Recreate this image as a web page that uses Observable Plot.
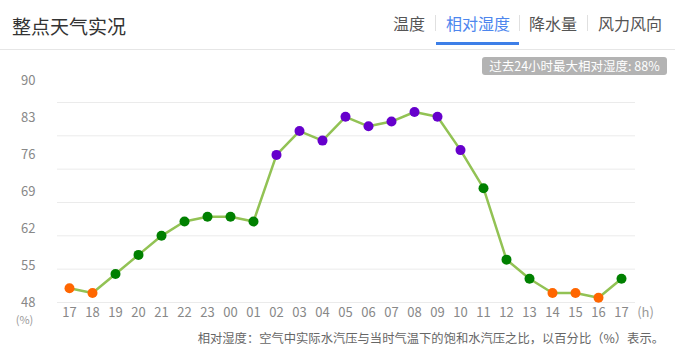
<!DOCTYPE html>
<html>
<head>
<meta charset="utf-8">
<script src="https://cdn.jsdelivr.net/npm/d3@7"></script>
<script src="https://cdn.jsdelivr.net/npm/@observablehq/plot@0.6"></script>
<style>
  html, body { margin: 0; padding: 0; background: #fff; }
  body { font-family: "Noto Sans CJK SC", "Noto Sans", sans-serif; }
  #wrap { position: relative; width: 675px; height: 358px; overflow: hidden; }
  .abs { position: absolute; white-space: nowrap; }
  #title { left: 12px; top: 15px; font-size: 19px; line-height: 22px; color: #333; }
  .tab { top: 13px; font-size: 16px; line-height: 20px; color: #555; }
  .tab.active { color: #4d86ee; }
  .sep { top: 15px; width: 1px; height: 16px; background: #e0e0e0; }
  #uline { left: 436px; top: 42px; width: 83px; height: 3px; background: #3d7fe8; }
  #hline { left: 0; top: 49px; width: 675px; height: 1px; background: #e6e6e6; }
  #badge { left: 482px; top: 57px; width: 185px; height: 18px; line-height: 18px; border-radius: 3px;
           background: #b3b3b3; color: #fff; font-size: 12.5px; text-align: center; }
  #chart { left: 0; top: 50px; }
  #caption { right: 11px; top: 329px; font-size: 12.3px; line-height: 18px; color: #666; }
</style>
</head>
<body>
<div id="wrap">
  <div id="title" class="abs">整点天气实况</div>
  <div class="abs tab" style="left:393px">温度</div>
  <div class="abs sep" style="left:435px"></div>
  <div class="abs tab active" style="left:446px">相对湿度</div>
  <div class="abs sep" style="left:519px"></div>
  <div class="abs tab" style="left:529px">降水量</div>
  <div class="abs sep" style="left:587px"></div>
  <div class="abs tab" style="left:598px">风力风向</div>
  <div id="uline" class="abs"></div>
  <div id="hline" class="abs"></div>
  <div id="chart" class="abs"></div>
  <div id="badge" class="abs">过去24小时最大相对湿度: 88%</div>
  <div id="caption" class="abs">相对湿度：空气中实际水汽压与当时气温下的饱和水汽压之比，以百分比（%）表示。</div>
</div>
<script>
const hours = ["17","18","19","20","21","22","23","00","01","02","03","04","05","06","07","08","09","10","11","12","13","14","15","16","17"];
const humidity = [51,50,54,58,62,65,66,66,65,79,84,82,87,85,86,88,87,80,72,57,53,50,50,49,53];
const yTicks = [48,55,62,69,76,83,90];
const colorThresholds = [52, 76];
const colorRange = ["#ff6600", "#008000", "#6600cc"];

const data = humidity.map((v, i) => ({i, v, h: hours[i]}));
// tick labels in the original are spread slightly wider than the grid lines
const labelSpread = 1.108;

const chart = Plot.plot({
  width: 675,
  height: 278,
  marginTop: 52,
  marginBottom: 26,
  marginLeft: 57,
  marginRight: 42,
  style: {fontFamily: "'Noto Sans CJK SC', 'Noto Sans', sans-serif", background: "transparent"},
  x: {type: "point", domain: d3.range(hours.length), padding: 0.52, axis: null},
  y: {domain: [48, 90], axis: null},
  color: {type: "threshold", domain: colorThresholds, range: colorRange},
  marks: [
    Plot.ruleY(yTicks, {stroke: "#ebebeb", strokeWidth: 1, insetRight: -2}),
    Plot.line(data, {x: "i", y: "v", stroke: "#92c254", strokeWidth: 2.5}),
    Plot.dot(data, {x: "i", y: "v", r: 5, fill: d => d.v, stroke: "none"}),
    Plot.text(yTicks, {frameAnchor: "left", y: d => 48 + (d - 48) * labelSpread, text: d => String(d),
      textAnchor: "end", dx: -22, fontSize: 13, fill: "#888"}),
    Plot.text(data, {x: "i", y: () => 48, text: "h", dy: 10, fontSize: 13, fill: "#888"}),
    Plot.text(["(%)"], {frameAnchor: "left", y: () => 48, dx: -33, dy: 17.5, textAnchor: "middle", fontSize: 11, fill: "#999"}),
    Plot.text(["(h)"], {frameAnchor: "right", y: () => 48, dx: 12, dy: 10, textAnchor: "middle", fontSize: 13, fill: "#999"})
  ]
});
document.getElementById("chart").appendChild(chart);
</script>
</body>
</html>
